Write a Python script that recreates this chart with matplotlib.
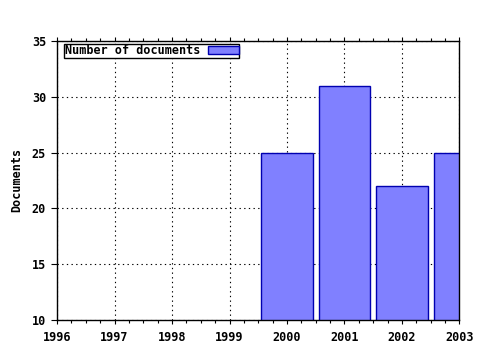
import matplotlib
matplotlib.use('Agg')
import matplotlib.pyplot as plt
from matplotlib.ticker import MultipleLocator

plt.rcParams['font.family'] = ['DejaVu Sans Mono']
plt.rcParams['font.weight'] = 'bold'
plt.rcParams['axes.labelweight'] = 'bold'
plt.rcParams['font.size'] = 8.5

# data
years = [2000, 2001, 2002, 2003]
documents = [25, 31, 22, 25]
series_label = 'Number of documents'

fig = plt.figure(figsize=(4.8, 3.5), dpi=100)
ax = fig.add_axes([0.119, 0.086, 0.838, 0.797])

ax.bar(years, documents, width=0.9, bottom=0,
       color='#8080ff', edgecolor='#0000b0', linewidth=1.0,
       label=series_label, zorder=2)

ax.set_xlim(1996, 2003)
ax.set_ylim(10, 35)
ax.xaxis.set_major_locator(MultipleLocator(1))
ax.xaxis.set_minor_locator(MultipleLocator(0.25))
ax.yaxis.set_major_locator(MultipleLocator(5))

# dotted grid at major ticks
ax.grid(True, which='major', color='black', linestyle=(0, (1.2, 3)), linewidth=0.8, zorder=1)
ax.set_axisbelow(True)

ax.tick_params(axis='x', which='both', direction='out', top=True, bottom=True,
               labeltop=False, length=3, width=0.8, pad=5)
ax.tick_params(axis='x', which='minor', length=2)
ax.tick_params(axis='y', which='major', direction='out', length=4, width=0.8, pad=4)

for s in ax.spines.values():
    s.set_linewidth(1.0)
    s.set_color('black')

ax.set_ylabel('Documents', labelpad=6)

leg = ax.legend(loc='upper left', bbox_to_anchor=(0.017, 0.99), markerfirst=False,
                fancybox=False, framealpha=1, edgecolor='black',
                borderpad=0.05, handlelength=2.6, handleheight=0.6,
                handletextpad=0.7, borderaxespad=0)
leg.get_frame().set_linewidth(1.0)

fig.savefig('out.png', dpi=100)
